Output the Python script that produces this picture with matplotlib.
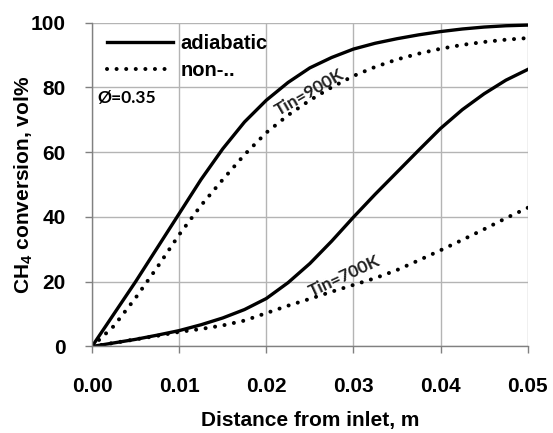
#!/usr/bin/env python3

import matplotlib

matplotlib.use("Agg")
import matplotlib.pyplot as plt


# distance from inlet, m (shared by all four curves)
X = [0.0, 0.0025, 0.005, 0.0075, 0.01, 0.0125, 0.015, 0.0175, 0.02, 0.0225, 0.025,
     0.0275, 0.03, 0.0325, 0.035, 0.0375, 0.04, 0.0425, 0.045, 0.0475, 0.05]

# CH4 conversion, vol%
ADIA_900 = [0.0, 10.0, 20.0, 30.5, 41.0, 51.5, 61.0, 69.3, 76.0, 81.5, 86.0,
            89.2, 91.8, 93.6, 95.0, 96.2, 97.2, 98.0, 98.6, 99.0, 99.2]
NONADIA_900 = [0.0, 6.3, 15.0, 24.5, 34.5, 43.5, 51.5, 59.2, 66.0, 71.4, 76.0,
               80.0, 83.5, 86.3, 88.6, 90.4, 91.9, 93.1, 94.0, 94.7, 95.2]
ADIA_700 = [0.0, 1.1, 2.2, 3.5, 4.9, 6.7, 8.8, 11.4, 14.8, 19.7, 25.6,
            32.5, 39.9, 47.0, 53.8, 60.6, 67.3, 73.1, 78.0, 82.2, 85.5]
NONADIA_700 = [0.0, 1.1, 2.2, 3.3, 4.5, 5.4, 6.5, 8.0, 10.3, 12.6, 14.7,
               16.9, 19.0, 21.1, 23.6, 26.6, 29.7, 32.9, 36.2, 39.6, 42.8]

X_TICKS = [0.0, 0.01, 0.02, 0.03, 0.04, 0.05]
Y_TICKS = [0, 20, 40, 60, 80, 100]

TICK_FONT = "Liberation Sans"
NOTE_FONT = "Lato"

plt.rcParams["mathtext.fontset"] = "custom"
plt.rcParams["mathtext.rm"] = "Liberation Sans"
plt.rcParams["mathtext.bf"] = "Liberation Sans:bold"

fig = plt.figure(figsize=(5.53, 4.33), dpi=100)
ax = fig.add_axes([0.1664, 0.1998, 0.7878, 0.7482])

dotted = dict(linestyle=(0, (0.01, 2.37)), dash_capstyle="round", linewidth=2.9, color="black")

ax.plot(X, ADIA_900, color="black", linewidth=2.4, label="adiabatic")
ax.plot(X, NONADIA_900, label="non-..", **dotted)
ax.plot(X, ADIA_700, color="black", linewidth=2.4)
ax.plot(X, NONADIA_700, **dotted)

ax.set_xlim(0, 0.05)
ax.set_ylim(0, 100)
ax.set_xticks(X_TICKS)
ax.set_xticklabels([f"{v:.2f}" for v in X_TICKS])
ax.set_yticks(Y_TICKS)
ax.grid(True, color="#b4b4b4", linewidth=1.0)
ax.set_axisbelow(True)

for side in ("top", "right"):
    ax.spines[side].set_visible(False)
for side in ("left", "bottom"):
    ax.spines[side].set_color("#808080")
    ax.spines[side].set_linewidth(1.0)
ax.tick_params(direction="out", length=5, color="#808080", width=1.0)
ax.tick_params(axis="x", pad=17)
ax.tick_params(axis="y", pad=14)

for lbl in ax.get_xticklabels() + ax.get_yticklabels():
    lbl.set_fontfamily(TICK_FONT)
    lbl.set_fontweight("bold")
    lbl.set_fontsize(15)

ax.set_xlabel("Distance from inlet, m", fontfamily=TICK_FONT, fontweight="bold",
              fontsize=15, labelpad=11)
ax.set_ylabel("CH$_\\mathbf{4}$ conversion, vol%", fontfamily=TICK_FONT,
              fontweight="bold", fontsize=15, labelpad=-3)

ax.legend(loc="upper left", frameon=False, handlelength=3.3, handletextpad=0.35,
          borderaxespad=0.0, borderpad=0.0, labelspacing=0.4, bbox_to_anchor=(0.034, 0.965),
          prop={"family": TICK_FONT, "weight": "bold", "size": 14.5})

ax.text(0.00057, 76.7, "Ø=0.35", fontfamily=NOTE_FONT, fontweight="bold", fontsize=12.5,
        va="center", ha="left")
ax.text(0.0250, 78.4, "Tin=900K", fontfamily=NOTE_FONT, fontweight="bold", fontsize=12.5,
        color="#202020", rotation=30, ha="center", va="center")
ax.text(0.0290, 21.6, "Tin=700K", fontfamily=NOTE_FONT, fontweight="bold", fontsize=12.5,
        color="#202020", rotation=25, ha="center", va="center")

fig.savefig("out.png", dpi=100)
plt.close(fig)
